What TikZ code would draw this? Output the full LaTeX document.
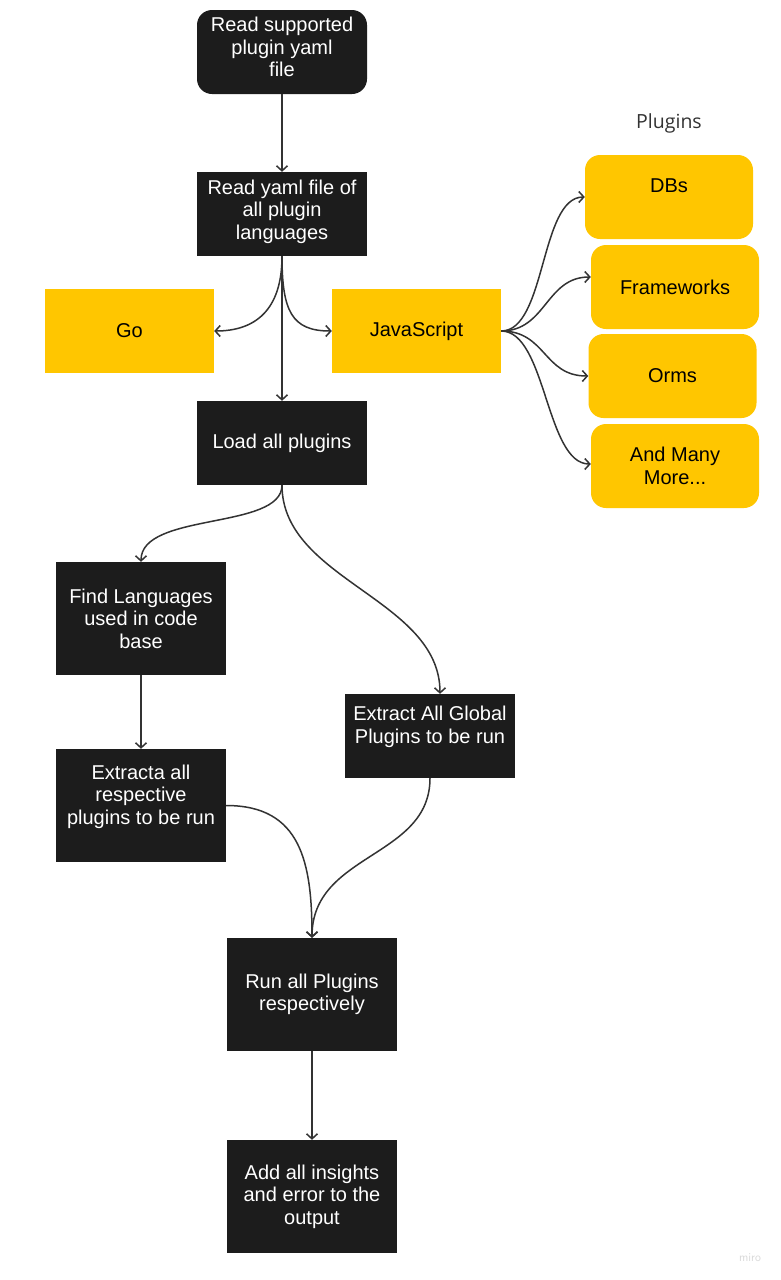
\documentclass[tikz,border=0pt]{standalone}
\usepackage{fontspec}
\setmainfont{Liberation Sans}
\newfontfamily\plugfont{Open Sans}
\usetikzlibrary{arrows.meta}
\definecolor{boxblack}{HTML}{1C1C1C}
\definecolor{boxyellow}{HTML}{FFC600}
\definecolor{linegray}{HTML}{333333}
\begin{document}
\begin{tikzpicture}[x=1pt,y=-1pt,
  every node/.style={font=\fontsize{20}{22.5}\selectfont, inner sep=0pt, align=center},
  blk/.style={rectangle, fill=boxblack, text=white, minimum width=170pt, minimum height=84pt},
  blkround/.style={blk, rounded corners=15pt},
  ylw/.style={rectangle, fill=boxyellow, text=black, minimum width=169pt, minimum height=84pt},
  ylwround/.style={ylw, minimum width=168pt, rounded corners=15pt},
  plug/.style={font=\plugfont\fontsize{19.5}{22.5}\selectfont, text=linegray},
  arr/.style={draw=linegray, line width=1.5pt, -{Straight Barb[length=5pt,width=11pt,line width=1.5pt]}}
]
\useasboundingbox (0,0) rectangle (780,1280);
\fill[white] (0,0) rectangle (780,1280);

\node[blkround] (read) at (282,52) {Read supported\\plugin yaml\\file\\[-13pt]\mbox{}};
\node[blk] (langs) at (282,214) {Read yaml file of\\all plugin\\languages\\[-13pt]\mbox{}};
\node[ylw] (go) at (129.5,331) {Go};
\node[ylw] (js) at (416.5,331) {JavaScript};
\node[blk] (load) at (282,443) {Load all plugins};
\node[plug] (plugins) at (669,123.5) {Plugins};
\node[ylwround] (dbs) at (669,197) {DBs\\\mbox{}};
\node[ylwround] (fw) at (675,287) {Frameworks};
\node[ylwround] (orms) at (672.5,376) {Orms};
\node[ylwround] (more) at (675,466) {And Many\\More...};
\node[blk, minimum height=113pt] (find) at (141,618.5) {Find Languages\\used in code\\base};
\node[blk, minimum height=113pt] (extr) at (141,805.5) {Extracta all\\respective\\plugins to be run\\\mbox{}};
\node[blk] (glob) at (430,736) {Extract All Global\\Plugins to be run\\\mbox{}};
\node[blk, minimum height=113pt] (run) at (312,994.5) {Run all Plugins\\respectively};
\node[blk, minimum height=113pt] (add) at (312,1196.5) {Add all insights\\ and error to the\\output};
\node[text=gray!30, font=\sffamily\fontsize{12}{13}\selectfont] (miro) at (750,1258) {miro};

\draw[arr] (read.south) -- (langs.north);
\draw[arr] (langs.south) .. controls +(0,55) and +(40,0) .. (go.east);
\draw[arr] (langs.south) .. controls +(0,55) and +(-40,0) .. (js.west);
\draw[arr] (langs.south) -- (load.north);
\draw[arr] (js.east) .. controls +(45,0) and +(-45,0) .. (dbs.west);
\draw[arr] (js.east) .. controls +(45,0) and +(-45,0) .. ([yshift=10pt]fw.west);
\draw[arr] (js.east) .. controls +(45,0) and +(-45,0) .. (orms.west);
\draw[arr] (js.east) .. controls +(45,0) and +(-45,0) .. ([yshift=2pt]more.west);
\draw[arr] (load.south) .. controls +(0,45) and +(0,-50) .. (find.north);
\draw[arr] (load.south) .. controls +(0,95) and +(0,-95) .. ([xshift=10pt]glob.north);
\draw[arr] (find.south) -- (extr.north);
\draw[arr] (extr.east) .. controls +(75,0) and +(0,-75) .. (run.north);
\draw[arr] (glob.south) .. controls +(0,80) and +(0,-85) .. (run.north);
\draw[arr] (run.south) -- (add.north);
\end{tikzpicture}
\end{document}
